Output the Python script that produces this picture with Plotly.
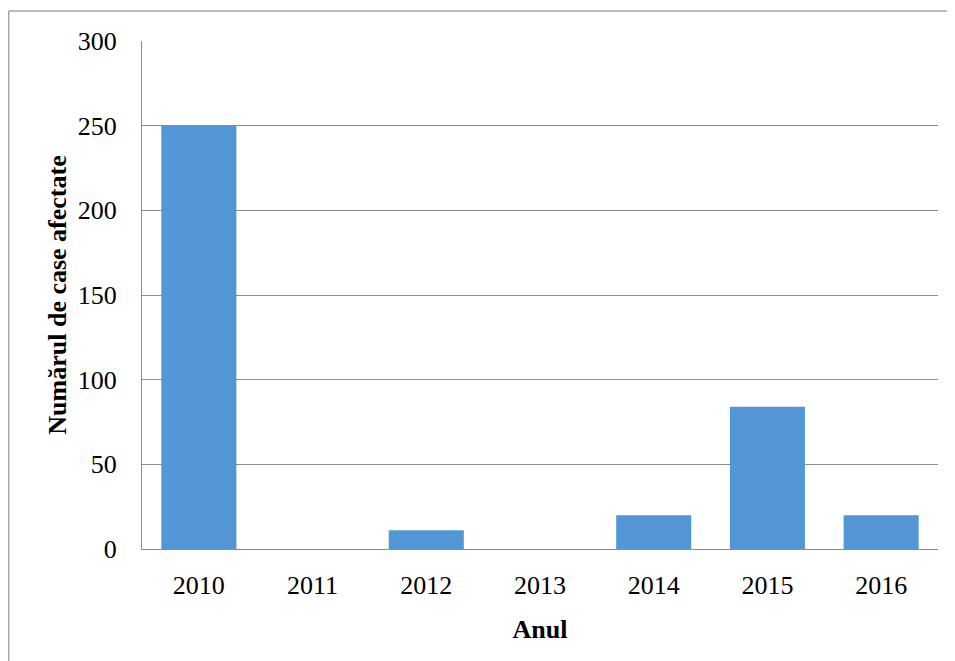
import plotly.graph_objects as go

years = ["2010", "2011", "2012", "2013", "2014", "2015", "2016"]
cases = [250, 0, 11, 0, 20, 84, 20]
y_ticks = [0, 50, 100, 150, 200, 250, 300]

# page has an 8px body margin; offsets below are in figure coordinates
L, R, T, B = 134, 25, 33, 120
W, H = 955, 661
pw, ph = W - L - R, H - T - B

fig = go.Figure()
fig.add_trace(go.Bar(
    x=years, y=cases,
    marker=dict(color="#5296d6", line=dict(width=0)),
    width=0.66,
))

fig.update_layout(
    width=W, height=H,
    margin=dict(l=L, r=R, t=T, b=B),
    paper_bgcolor="white", plot_bgcolor="white",
    font=dict(family="Liberation Serif", size=26, color="black"),
    showlegend=False,
    bargap=0.34,
    xaxis=dict(
        type="category",
        showline=True, linecolor="#8c8c8c", linewidth=1,
        showgrid=False, ticks="", ticklabelstandoff=13,
        title=dict(text="<b>Anul</b>", font=dict(size=26), standoff=20),
    ),
    yaxis=dict(
        range=[0, 300], tickvals=y_ticks,
        showline=True, linecolor="#8c8c8c", linewidth=1,
        showgrid=True, gridcolor="#8c8c8c", gridwidth=1,
        zeroline=False, ticks="", ticklabelstandoff=19,
        title=dict(text="<b>Numărul de case afectate</b>", font=dict(size=26), standoff=3),
    ),
)

# outer chart border (only the top and left edges fall inside the view)
bx0 = (0.75 - L) / pw
by1 = (ph + T - 3) / ph
by0 = -(H - T - ph) / ph
bx1 = (W - L) / pw
border = dict(color="#a6a6a6", width=1.5)
fig.add_shape(type="line", xref="paper", yref="paper",
              x0=bx0, x1=bx1, y0=by1, y1=by1, line=border, layer="below")
fig.add_shape(type="line", xref="paper", yref="paper",
              x0=bx0, x1=bx0, y0=by0, y1=by1, line=border, layer="below")

fig.write_html("out.html")
